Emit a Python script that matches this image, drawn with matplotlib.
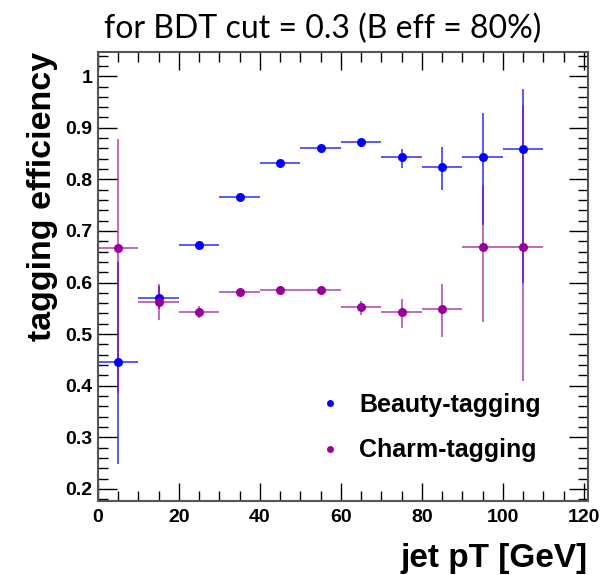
import matplotlib
matplotlib.use("Agg")
import matplotlib.pyplot as plt
from matplotlib.ticker import MultipleLocator
from matplotlib.lines import Line2D

# jet pT bin centres and half-widths [GeV]
pt_centres = [5, 15, 25, 35, 45, 55, 65, 75, 85, 95, 105]
pt_halfwidth = [5] * 11

# beauty-tagging efficiency with asymmetric errors
beauty_eff = [0.446, 0.570, 0.673, 0.765, 0.832, 0.860, 0.873, 0.843, 0.824, 0.843, 0.858]
beauty_lo = [0.249, 0.549, 0.668, 0.760, 0.827, 0.854, 0.863, 0.822, 0.779, 0.712, 0.600]
beauty_hi = [0.640, 0.594, 0.678, 0.770, 0.837, 0.866, 0.879, 0.859, 0.862, 0.928, 0.975]

# charm-tagging efficiency with asymmetric errors
charm_eff = [0.667, 0.562, 0.542, 0.582, 0.585, 0.585, 0.552, 0.542, 0.548, 0.668, 0.668]
charm_lo = [0.386, 0.527, 0.531, 0.578, 0.581, 0.581, 0.537, 0.512, 0.495, 0.523, 0.410]
charm_hi = [0.879, 0.598, 0.554, 0.586, 0.589, 0.589, 0.565, 0.569, 0.598, 0.790, 0.945]

title_text = "for BDT cut = 0.3 (B eff = 80%)"
series_labels = ["Beauty-tagging", "Charm-tagging"]

blue = "#0000ff"
purple = "#990099"

fig = plt.figure(figsize=(6.04, 5.75), dpi=100)
ax = fig.add_axes([0.1618, 0.1292, 0.8117, 0.7804])


def draw(eff, lo, hi, color, bar_alpha):
    yerr = [[e - l for e, l in zip(eff, lo)], [h - e for e, h in zip(eff, hi)]]
    _, caps, bars = ax.errorbar(pt_centres, eff, xerr=pt_halfwidth, yerr=yerr,
                                fmt="o", color=color, ms=6.5, mew=0,
                                elinewidth=1.4, capsize=3.0, capthick=1.5)
    for b in bars:
        b.set_alpha(bar_alpha)
    for c in caps:
        c.set_alpha(0.85)


draw(beauty_eff, beauty_lo, beauty_hi, blue, 0.65)
draw(charm_eff, charm_lo, charm_hi, purple, 0.6)

ax.set_xlim(0, 121)
ax.set_ylim(0.177, 1.047)

ax.xaxis.set_major_locator(MultipleLocator(20))
ax.xaxis.set_minor_locator(MultipleLocator(5))
ax.yaxis.set_major_locator(MultipleLocator(0.1))
ax.yaxis.set_minor_locator(MultipleLocator(0.02))
ax.tick_params(which="both", direction="in", top=True, right=True,
               color="black", width=1.0)
ax.tick_params(which="major", length=14)
ax.tick_params(which="minor", length=7)
ax.tick_params(axis="x", which="major", length=13, pad=6)
ax.tick_params(axis="y", which="major", pad=4)

ax.set_yticks([0.2, 0.3, 0.4, 0.5, 0.6, 0.7, 0.8, 0.9, 1.0])
ax.set_yticklabels(["0.2", "0.3", "0.4", "0.5", "0.6", "0.7", "0.8", "0.9", "1"],
                   fontfamily="Liberation Sans", fontweight="bold", fontsize=14)
ax.set_xticks([0, 20, 40, 60, 80, 100, 120])
ax.set_xticklabels(["0", "20", "40", "60", "80", "100", "120"],
                   fontfamily="Liberation Sans", fontweight="bold", fontsize=14)

for s in ax.spines.values():
    s.set_color("#555555")
    s.set_linewidth(1.5)

ax.set_xlabel("jet pT [GeV]", fontfamily="Liberation Sans", fontweight="bold",
              fontsize=24, loc="right", labelpad=12)
ax.set_ylabel("tagging efficiency", fontfamily="Liberation Sans", fontweight="bold",
              fontsize=24.5, loc="top", labelpad=5)

fig.text(0.534, 0.934, title_text, fontfamily="Lato", fontsize=23,
         ha="center", va="baseline")

handles = [Line2D([], [], ls="none", marker="o", color=blue, ms=5, mew=0),
           Line2D([], [], ls="none", marker="o", color=purple, ms=5, mew=0)]
ax.legend(handles, series_labels, loc="upper left", bbox_to_anchor=(0.403, 0.29),
          frameon=False, handlelength=1.0, handletextpad=0.65, labelspacing=0.85,
          prop={"family": "Liberation Sans", "weight": "bold", "size": 18})

fig.savefig("out.png", dpi=100, facecolor="white")
